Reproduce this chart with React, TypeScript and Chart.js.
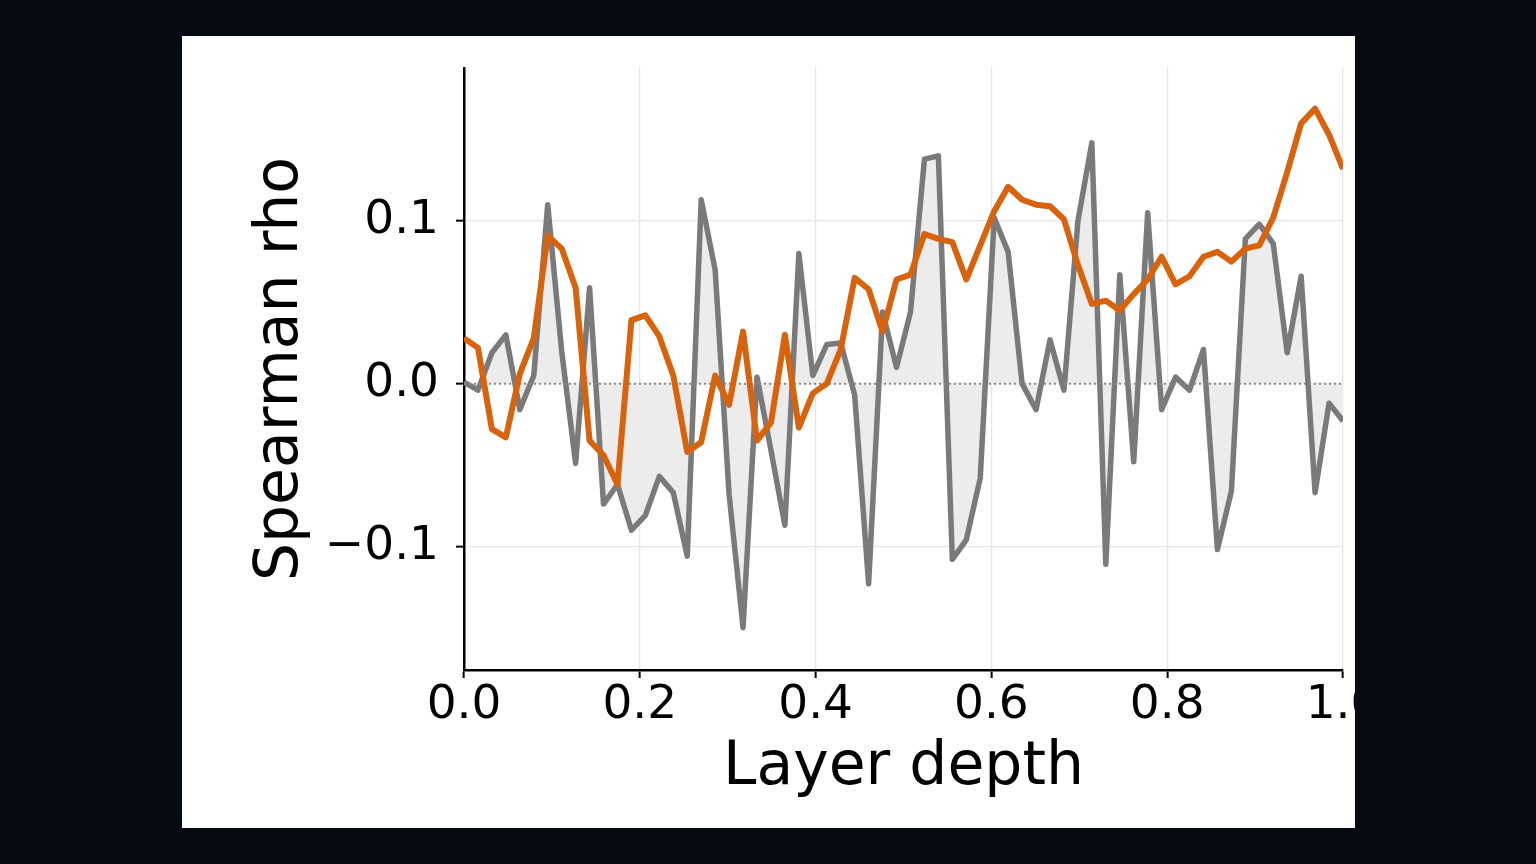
import { useEffect, useRef } from 'react'
import Chart from 'chart.js/auto'

// layer depth: 64 layers spread evenly from 0 to 1
const layerCount = 64
const depth: number[] = Array.from({ length: layerCount }, (_, i) => i / (layerCount - 1))

// gray series (fill between it and zero)
const grayRho: number[] = [
  0.001, -0.004, 0.019, 0.030, -0.016, 0.005, 0.110, 0.020, -0.049, 0.059,
  -0.074, -0.062, -0.090, -0.081, -0.057, -0.067, -0.106, 0.113, 0.070, -0.068,
  -0.150, 0.004, -0.041, -0.087, 0.080, 0.005, 0.024, 0.025, -0.007, -0.123,
  0.044, 0.010, 0.044, 0.138, 0.140, -0.108, -0.096, -0.058, 0.102, 0.081,
  0.000, -0.016, 0.027, -0.004, 0.100, 0.148, -0.111, 0.067, -0.048, 0.105,
  -0.016, 0.004, -0.004, 0.021, -0.102, -0.066, 0.089, 0.098, 0.086, 0.019,
  0.066, -0.067, -0.012, -0.023,
]

// orange series
const orangeRho: number[] = [
  0.028, 0.022, -0.028, -0.033, 0.006, 0.028, 0.091, 0.083, 0.059, -0.035,
  -0.044, -0.062, 0.039, 0.042, 0.029, 0.005, -0.042, -0.036, 0.005, -0.013,
  0.032, -0.035, -0.024, 0.030, -0.027, -0.006, 0.000, 0.021, 0.065, 0.058,
  0.032, 0.064, 0.067, 0.092, 0.089, 0.087, 0.064, 0.085, 0.106, 0.121,
  0.113, 0.110, 0.109, 0.101, 0.073, 0.049, 0.051, 0.045, 0.055, 0.064,
  0.078, 0.061, 0.066, 0.078, 0.081, 0.075, 0.083, 0.085, 0.102, 0.130,
  0.160, 0.169, 0.153, 0.132,
]

const yTicks: number[] = [-0.1, 0, 0.1]
const xRange: number[] = [0, 1]
const yRange: number[] = [-0.176, 0.194]

const fmt = (v: number) => {
  const s = Math.abs(v).toFixed(1)
  return v < -1e-9 ? '\u2212' + s : s
}

export default function App() {
  const chartRef = useRef<HTMLCanvasElement>(null)
  const chartInstance = useRef<Chart | null>(null)

  useEffect(() => {
    if (!chartRef.current) return
    if (chartInstance.current) chartInstance.current.destroy()

    const font = 'DejaVu Sans'

    chartInstance.current = new Chart(chartRef.current, {
      type: 'line',
      data: {
        datasets: [
          {
            // dotted zero line
            data: xRange.map(x => ({ x, y: 0 })),
            borderColor: '#8a8a8a',
            borderWidth: 2,
            borderDash: [2, 3],
            pointRadius: 0,
            fill: false,
            order: 2,
          },
          {
            data: depth.map((x, i) => ({ x, y: grayRho[i] })),
            borderColor: '#7a7a7a',
            backgroundColor: '#ececec',
            borderWidth: 5.5,
            borderJoinStyle: 'round',
            pointRadius: 0,
            fill: 'origin',
            tension: 0,
            order: 3,
          },
          {
            data: depth.map((x, i) => ({ x, y: orangeRho[i] })),
            borderColor: '#d9620c',
            borderWidth: 6,
            borderJoinStyle: 'round',
            pointRadius: 0,
            fill: false,
            tension: 0,
            order: 1,
          },
        ],
      },
      options: {
        animation: false,
        responsive: false,
        maintainAspectRatio: false,
        layout: { padding: { top: 32, right: 62, bottom: 0, left: 0 } },
        plugins: {
          legend: { display: false },
          tooltip: { enabled: false },
        },
        scales: {
          x: {
            type: 'linear',
            min: xRange[0],
            max: xRange[1],
            ticks: {
              stepSize: 0.2,
              color: '#000',
              font: { family: font, size: 47 },
              padding: 0,
              maxRotation: 0,
              callback: v => fmt(Number(v)),
            },
            grid: { color: '#e6e6e6', lineWidth: 1.3, tickColor: '#000', tickLength: 8, tickWidth: 2 },
            border: { color: '#000', width: 2.5 },
            title: {
              display: true,
              text: 'Layer depth',
              color: '#000',
              font: { family: font, size: 60 },
              padding: { top: 0, bottom: 24 },
            },
            afterFit: s => { s.height = 158 },
          },
          y: {
            type: 'linear',
            min: yRange[0],
            max: yRange[1],
            afterBuildTicks: s => { s.ticks = yTicks.map(value => ({ value })) },
            ticks: {
              color: '#000',
              font: { family: font, size: 47, lineHeight: 0.5 },
              padding: 17,
              callback: v => fmt(Number(v)),
            },
            grid: { color: '#e6e6e6', lineWidth: 1.3, tickColor: '#000', tickLength: 8, tickWidth: 2 },
            border: { color: '#000', width: 2.5 },
            title: {
              display: true,
              text: 'Spearman rho',
              color: '#000',
              font: { family: font, size: 60 },
              padding: { top: 63, bottom: 0 },
            },
            afterFit: s => { s.width = 282 },
          },
        },
      },
    })

    return () => {
      if (chartInstance.current) {
        chartInstance.current.destroy()
        chartInstance.current = null
      }
    }
  }, [])

  return (
    <div style={{ position: 'fixed', inset: 0, background: '#070b14' }}>
      <div
        style={{
          position: 'absolute',
          left: 182,
          top: 36,
          width: 1173,
          height: 792,
          background: '#fff',
          overflow: 'hidden',
        }}
      >
        <canvas ref={chartRef} width={1223} height={792} style={{ display: 'block' }} />
      </div>
    </div>
  )
}
